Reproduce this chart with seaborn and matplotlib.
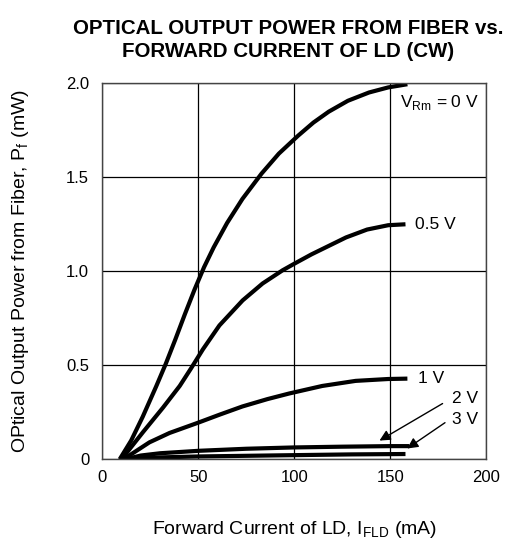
import numpy as np
import pandas as pd
import matplotlib
matplotlib.use("Agg")
import matplotlib.pyplot as plt
import seaborn as sns

# Data
i_0v = [9, 15, 21, 28, 33, 38, 43, 48, 53, 58, 65, 73, 83, 92, 102, 110, 118,
        128, 139, 149, 159]
p_0v = [0, 0.10, 0.226, 0.387, 0.507, 0.637, 0.772, 0.902, 1.022, 1.127, 1.257,
        1.385, 1.52, 1.626, 1.721, 1.791, 1.849, 1.907, 1.951, 1.978, 1.995]
i_05v = [10, 15, 21.2, 31.6, 40.3, 46.3, 52.4, 61.0, 73.1, 83.5, 93.9, 100,
         109, 118, 127, 138, 149, 158]
p_05v = [0, 0.065, 0.145, 0.275, 0.39, 0.485, 0.585, 0.712, 0.845, 0.935, 1.005,
         1.04, 1.09, 1.135, 1.18, 1.222, 1.245, 1.25]
i_1v = [11, 24.5, 35, 50, 61, 73, 86, 97.4, 114.6, 132, 149, 159]
p_1v = [0, 0.09, 0.14, 0.195, 0.237, 0.281, 0.32, 0.35, 0.39, 0.417, 0.427, 0.429]
i_2v = [12, 20, 30, 50, 75, 100, 125, 150, 160]
p_2v = [0, 0.02, 0.032, 0.045, 0.056, 0.063, 0.067, 0.07, 0.07]
i_3v = [12, 30, 50, 100, 130, 158]
p_3v = [0, 0.01, 0.015, 0.022, 0.026, 0.028]
series_names = ["0 V", "0.5 V", "1 V", "2 V", "3 V"]
x_ticks = [0, 50, 100, 150, 200]
y_ticks = [0, 0.5, 1.0, 1.5, 2.0]
y_tick_labels = ["0", "0.5", "1.0", "1.5", "2.0"]

frames = []
for name, xs, ys in zip(series_names, [i_0v, i_05v, i_1v, i_2v, i_3v],
                        [p_0v, p_05v, p_1v, p_2v, p_3v]):
    frames.append(pd.DataFrame({"I": xs, "P": ys, "V": name}))
df = pd.concat(frames, ignore_index=True)

sns.set_style("white")
plt.rcParams['font.family'] = ['Liberation Sans', 'DejaVu Sans']
plt.rcParams['mathtext.fontset'] = 'custom'
plt.rcParams['mathtext.rm'] = 'Liberation Sans'
plt.rcParams['text.color'] = 'black'
plt.rcParams['axes.labelcolor'] = 'black'

fig = plt.figure(figsize=(5.22, 5.39), dpi=100)
ax = fig.add_axes([0.1962, 0.1479, 0.7349, 0.6976])

sns.lineplot(data=df, x="I", y="P", hue="V", palette=["black"] * 5,
             linewidth=3.0, legend=False, ax=ax, sort=False)
for ln in ax.get_lines():
    ln.set_solid_joinstyle("round")
    ln.set_solid_capstyle("butt")

ax.set_xlim(0, 200)
ax.set_ylim(0, 2.0)
ax.set_xticks(x_ticks)
ax.set_yticks(y_ticks)
ax.set_yticklabels(y_tick_labels)
ax.grid(True, color="black", linewidth=0.9)
for s in ax.spines.values():
    s.set_color("#444444")
    s.set_linewidth(1.0)
ax.tick_params(axis="x", length=0, labelsize=12, pad=8, colors="black")
ax.tick_params(axis="y", length=0, labelsize=12, pad=9.5, colors="black")

ax.set_xlabel(r"Forward Current of LD, I$_\mathregular{FLD}$ (mA)", fontsize=14,
              labelpad=24, color="black")
ax.set_ylabel(r"OPtical Output Power from Fiber, P$_\mathregular{f}$ (mW)", fontsize=14,
              labelpad=25, color="black")
ax.set_title("OPTICAL OUTPUT POWER FROM FIBER vs.\nFORWARD CURRENT OF LD (CW)",
             fontsize=14.8, fontweight="bold", pad=19, linespacing=1.25, x=0.484,
             color="black")

ax.text(155, 1.90, r"V$_\mathregular{Rm}$ = 0 V", fontsize=12.5, va="center", ha="left")
ax.text(163, 1.247, "0.5 V", fontsize=12.5, va="center", ha="left")
ax.text(164.5, 0.43, "1 V", fontsize=12.5, va="center", ha="left")
ax.text(182, 0.322, "2 V", fontsize=12.5, va="center", ha="left")
ax.text(182, 0.212, "3 V", fontsize=12.5, va="center", ha="left")
ax.annotate("", xy=(143.2, 0.092), xytext=(178.6, 0.304),
            arrowprops=dict(arrowstyle="-|>", color="black", lw=1.0, mutation_scale=16))
ax.annotate("", xy=(157.7, 0.049), xytext=(179.8, 0.203),
            arrowprops=dict(arrowstyle="-|>", color="black", lw=1.0, mutation_scale=16))

fig.savefig("out.png", dpi=100)
